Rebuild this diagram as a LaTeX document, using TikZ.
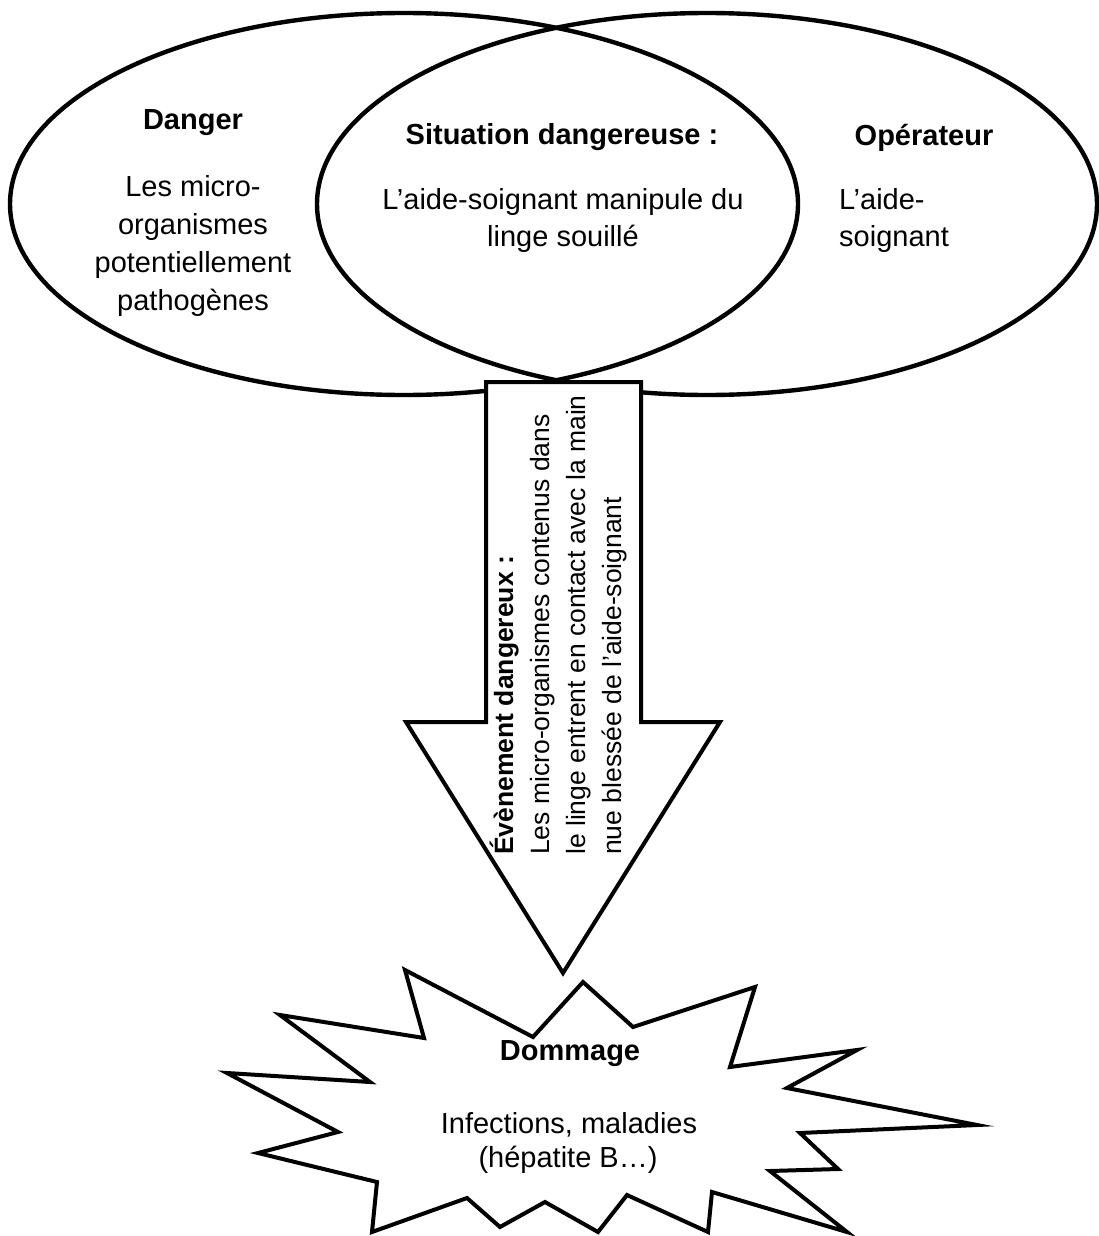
\documentclass[tikz,border=0pt]{standalone}
\usepackage{fontspec}
\setmainfont{Liberation Sans}
\begin{document}
\begin{tikzpicture}[x=1pt,y=-1pt,
  outline/.style={draw=black, line width=4.4pt},
  shapeline/.style={draw=black, fill=white, line width=4pt, line join=miter, miter limit=20},
  txt/.style={inner sep=0pt, anchor=base, font=\fontsize{29}{35}\selectfont},
  btxt/.style={txt, font=\fontsize{29}{35}\selectfont\bfseries},
  ltxt/.style={txt, anchor=base west},
  rtxt/.style={inner sep=0pt, rotate=90, anchor=base west, font=\fontsize{26.5}{32}\selectfont},
  rbtxt/.style={rtxt, font=\fontsize{26.5}{32}\selectfont\bfseries}]
\useasboundingbox (0,0) rectangle (1099,1236);
% ellipses
\draw[outline] (404,204) ellipse [x radius=394pt, y radius=191pt];
\draw[outline] (707,204) ellipse [x radius=390pt, y radius=191pt];
% arrow
\draw[shapeline] (486,382) -- (641,382) -- (641,722) -- (720,722) -- (563,973)
  -- (406,722) -- (486,722) -- cycle;
% starburst
\draw[shapeline] (405,970) -- (533,1037) -- (583,982) -- (633,1027) -- (755,987)
  -- (730,1067) -- (857,1050) -- (787,1088) -- (977,1125) -- (800,1133)
  -- (838,1169) -- (770,1171) -- (847,1232) -- (712,1192) -- (708,1232)
  -- (627,1195) -- (598,1232) -- (545,1202) -- (500,1227) -- (467,1198)
  -- (372,1232) -- (377,1182) -- (258,1153) -- (338,1132) -- (227,1073)
  -- (370,1082) -- (280,1015) -- (424,1038) -- cycle;
% Danger
\node[btxt] (dt) at (193,130) {Danger};
\node[txt] (d1) at (193,196) {Les micro-};
\node[txt] (d2) at (193,234) {organismes};
\node[txt] (d3) at (193,272) {potentiellement};
\node[txt] (d4) at (193,310) {pathogènes};
% Situation
\node[btxt] (st) at (562,145) {Situation dangereuse :};
\node[txt] (s1) at (563,209) {L’aide-soignant manipule du};
\node[txt] (s2) at (563,246) {linge souillé};
% Operateur
\node[btxt] (ot) at (924,146) {Opérateur};
\node[ltxt] (o1) at (839,209) {L’aide-};
\node[ltxt] (o2) at (839,246) {soignant};
% arrow text
\node[rbtxt] (e0) at (513,855) {Évènement dangereux :};
\node[rtxt] (e1) at (549,855) {Les micro-organismes contenus dans};
\node[rtxt] (e2) at (585,855) {le linge entrent en contact avec la main};
\node[rtxt] (e3) at (621,855) {nue blessée de l’aide-soignant};
% Dommage
\node[btxt] (mt) at (570,1060) {Dommage};
\node[txt] (m1) at (569,1133) {Infections, maladies};
\node[txt] (m2) at (568,1167) {(hépatite B…)};
\end{tikzpicture}
\end{document}
